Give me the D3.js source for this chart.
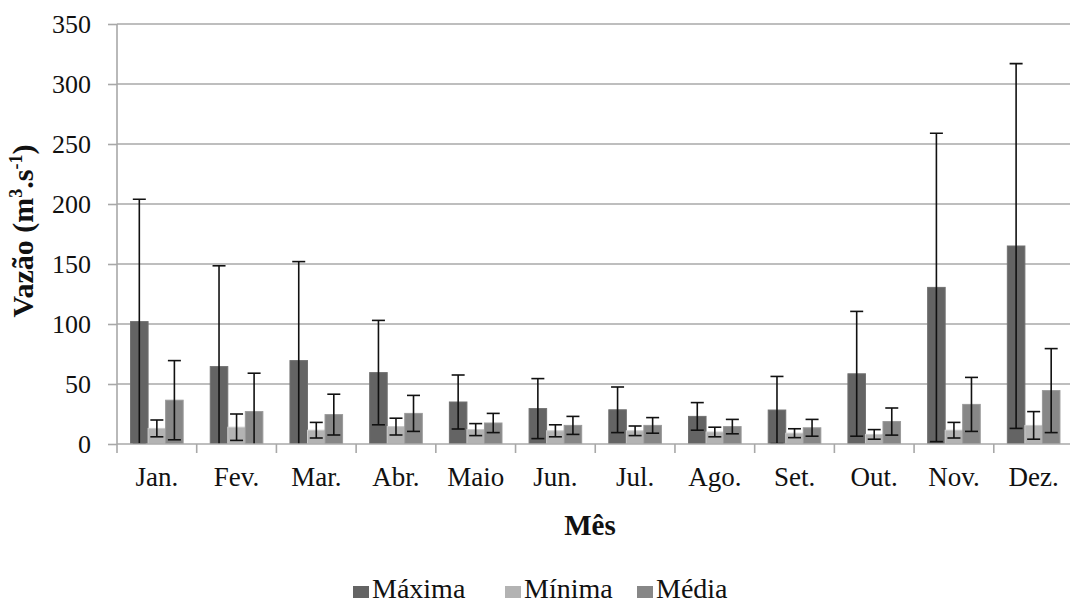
<!DOCTYPE html>
<html lang="pt">
<head>
<meta charset="utf-8">
<script src="https://cdn.jsdelivr.net/npm/d3@7"></script>
<style>
  html, body { margin: 0; padding: 0; background: #fff; }
  svg { display: block; }
  svg text { font-family: "Liberation Serif", serif; }
</style>
</head>
<body>
<svg id="chart" width="1070" height="604"></svg>
<script>
// Monthly discharge: maximum, minimum and mean, each with its standard deviation
const months = ["Jan.", "Fev.", "Mar.", "Abr.", "Maio", "Jun.", "Jul.", "Ago.", "Set.", "Out.", "Nov.", "Dez."];
const seriesNames = ["Máxima", "Mínima", "Média"];

const maxima    = [102, 64.5, 69.5, 59.5, 35, 29.5, 28.5, 23, 28.3, 58.5, 130.5, 165];
const maximaErr = [102, 84, 82.5, 43.5, 22.5, 25, 19, 11.5, 28, 52, 128.5, 152];
const minima    = [13, 14, 11.5, 14.5, 12, 11, 11, 10, 9, 8, 11.5, 15.5];
const minimaErr = [7, 11, 6.5, 7, 5, 5, 4, 4, 3.7, 4, 6.5, 11.5];
const media     = [36.5, 27, 24.5, 25.5, 17.5, 15.5, 15.5, 14.5, 13.5, 18.7, 33, 44.5];
const mediaErr  = [33, 32, 17, 15, 8, 7.5, 6.5, 6, 7, 11.3, 22.5, 35];

const yTicks = [0, 50, 100, 150, 200, 250, 300, 350];
const colors = ["#646464", "#b3b3b3", "#878787"];

const values = [maxima, minima, media];
const errors = [maximaErr, minimaErr, mediaErr];

const FONT = "Liberation Serif";
const svg = d3.select("#chart");
const plot = { left: 117, right: 1073.5, top: 24, bottom: 444 };

const x = d3.scaleBand()
  .domain(months)
  .range([plot.left, plot.right])
  .paddingInner(0.34)
  .paddingOuter(0.17);

const xSub = d3.scaleBand()
  .domain(seriesNames)
  .range([0, x.bandwidth()])
  .padding(0);

const y = d3.scaleLinear().domain([0, 350]).range([plot.bottom, plot.top]);

const gridColor = "#a8a8a8";

svg.append("defs").append("clipPath").attr("id", "plotClip")
  .append("rect")
  .attr("x", plot.left).attr("y", plot.top - 10)
  .attr("width", plot.right - plot.left).attr("height", plot.bottom - plot.top + 10);

// horizontal gridlines
svg.append("g")
  .selectAll("line")
  .data(yTicks.filter(d => d > 0))
  .join("line")
  .attr("x1", plot.left).attr("x2", plot.right)
  .attr("y1", d => y(d)).attr("y2", d => y(d))
  .attr("stroke", gridColor).attr("stroke-width", 1.6);

// y axis
const yAxis = svg.append("g")
  .attr("transform", `translate(${plot.left},0)`)
  .call(d3.axisLeft(y).tickValues(yTicks).tickSize(9).tickPadding(17));
yAxis.attr("font-family", FONT);
yAxis.select(".domain").attr("stroke", gridColor).attr("stroke-width", 1.6).attr("d", `M0,${y(0)}V${y(350)}`);
yAxis.selectAll(".tick line").attr("stroke", gridColor).attr("stroke-width", 1.6);
yAxis.selectAll(".tick text")
  .attr("font-family", FONT).attr("font-size", 26).attr("fill", "#111");

// bars
const groups = svg.append("g").attr("clip-path", "url(#plotClip)");
seriesNames.forEach((name, s) => {
  groups.append("g")
    .selectAll("rect")
    .data(months)
    .join("rect")
    .attr("x", m => x(m) + xSub(name))
    .attr("y", (m, i) => y(values[s][i]))
    .attr("width", xSub.bandwidth())
    .attr("height", (m, i) => y(0) - y(values[s][i]))
    .attr("fill", colors[s])
    .attr("stroke", d3.color(colors[s]).brighter(0.35))
    .attr("stroke-width", 1);
});

// error bars (standard deviation), clipped at the baseline
const capHalf = 6.5;
seriesNames.forEach((name, s) => {
  const g = groups.append("g").attr("stroke", "#111").attr("stroke-width", 1.6);
  months.forEach((m, i) => {
    const cx = x(m) + xSub(name) + xSub.bandwidth() / 2;
    const hi = y(values[s][i] + errors[s][i]);
    const lo = y(values[s][i] - errors[s][i]);
    g.append("line").attr("x1", cx).attr("x2", cx).attr("y1", hi).attr("y2", lo);
    g.append("line").attr("x1", cx - capHalf).attr("x2", cx + capHalf).attr("y1", hi).attr("y2", hi);
    g.append("line").attr("x1", cx - capHalf).attr("x2", cx + capHalf).attr("y1", lo).attr("y2", lo);
  });
});

// x axis baseline and category ticks
const step = x.step();
const xAxisG = svg.append("g");
xAxisG.append("line")
  .attr("x1", plot.left).attr("x2", plot.right)
  .attr("y1", y(0)).attr("y2", y(0))
  .attr("stroke", gridColor).attr("stroke-width", 1.6);
xAxisG.selectAll("line.tick")
  .data(d3.range(months.length + 1))
  .join("line")
  .attr("class", "tick")
  .attr("x1", i => plot.left + i * step).attr("x2", i => plot.left + i * step)
  .attr("y1", y(0)).attr("y2", y(0) + 9)
  .attr("stroke", gridColor).attr("stroke-width", 1.6);
xAxisG.selectAll("text")
  .data(months)
  .join("text")
  .attr("x", m => x(m) + x.bandwidth() / 2)
  .attr("y", 486)
  .attr("text-anchor", "middle")
  .attr("font-family", FONT)
  .attr("font-size", 27)
  .attr("fill", "#111")
  .text(m => m);

// axis titles
svg.append("text")
  .attr("x", 590).attr("y", 535)
  .attr("text-anchor", "middle")
  .attr("font-family", FONT)
  .attr("font-size", 29).attr("font-weight", "bold").attr("fill", "#111")
  .text("Mês");

const yTitle = svg.append("text")
  .attr("transform", "translate(33,231) rotate(-90)")
  .attr("text-anchor", "middle")
  .attr("font-family", FONT)
  .attr("font-size", 30).attr("font-weight", "bold").attr("fill", "#111");
yTitle.append("tspan").text("Vazão (m");
yTitle.append("tspan").attr("font-size", 18).attr("dy", -11).text("3");
yTitle.append("tspan").attr("dy", 11).text(".s");
yTitle.append("tspan").attr("font-size", 18).attr("dy", -11).text("-1");
yTitle.append("tspan").attr("dy", 11).text(")");

// legend
const legendItems = [
  { name: seriesNames[0], color: colors[0], x: 353 },
  { name: seriesNames[1], color: colors[1], x: 505 },
  { name: seriesNames[2], color: colors[2], x: 637 }
];
const legend = svg.append("g");
legendItems.forEach(d => {
  legend.append("rect")
    .attr("x", d.x).attr("y", 586)
    .attr("width", 16).attr("height", 12)
    .attr("fill", d.color);
  legend.append("text")
    .attr("x", d.x + 19).attr("y", 598)
    .attr("font-family", FONT)
    .attr("font-size", 28).attr("fill", "#111")
    .text(d.name);
});
</script>
</body>
</html>
